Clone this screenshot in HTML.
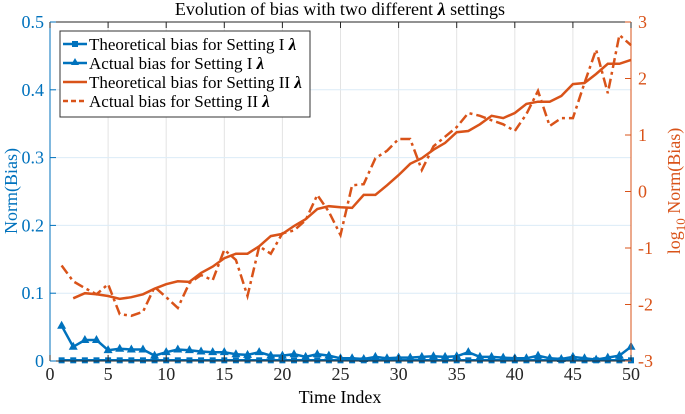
<!DOCTYPE html>
<html><head><meta charset="utf-8"><style>
body{margin:0;background:#fff;}
svg text{font-family:"Liberation Serif",serif;}
</style></head><body>
<svg id="chart" width="685" height="409" xmlns="http://www.w3.org/2000/svg">
<g id="grid"></g>
<g id="marks"></g>
<g id="axes"></g>
<text x="340" y="15" text-anchor="middle" font-size="18">Evolution of bias with two different <tspan font-style="italic" font-weight="bold">λ</tspan> settings</text>
<text x="340" y="403" text-anchor="middle" font-size="18">Time Index</text>
<text transform="translate(17,191) rotate(-90)" text-anchor="middle" font-size="18" fill="#0072BD">Norm(Bias)</text>
<text transform="translate(680,191) rotate(-90)" text-anchor="middle" font-size="18" fill="#D95319">log<tspan font-size="13" dy="5">10</tspan><tspan dy="-5"> Norm(Bias)</tspan></text>
<g>
<rect x="60" y="31" width="250" height="86" fill="#fff" stroke="#333" stroke-width="1"/>
<g><line x1="63" y1="44" x2="87" y2="44" stroke="#0072BD" stroke-width="2.5"/><rect x="72" y="41" width="6" height="6" fill="#0072BD"/><text x="89" y="50" font-size="17">Theoretical bias for Setting I <tspan font-style="italic" font-weight="bold">λ</tspan></text></g>
<g><line x1="63" y1="63" x2="87" y2="63" stroke="#0072BD" stroke-width="2.5"/><path d="M75,58 L79,65 L71,65Z" fill="#0072BD"/><text x="89" y="69" font-size="17">Actual bias for Setting I <tspan font-style="italic" font-weight="bold">λ</tspan></text></g>
<g><line x1="63" y1="82" x2="87" y2="82" stroke="#D95319" stroke-width="2.5"/><text x="89" y="88" font-size="17">Theoretical bias for Setting II <tspan font-style="italic" font-weight="bold">λ</tspan></text></g>
<g><line x1="63" y1="101" x2="87" y2="101" stroke="#D95319" stroke-width="2.5" stroke-dasharray="5,3"/><text x="89" y="107" font-size="17">Actual bias for Setting II <tspan font-style="italic" font-weight="bold">λ</tspan></text></g>
</g>
</svg>
<script>
const xTicks=[0,5,10,15,20,25,30,35,40,45,50];
const yLeftTicks=[0,0.1,0.2,0.3,0.4,0.5];
const yLeftLabels=["0","0.1","0.2","0.3","0.4","0.5"];
const yRightTicks=[-3,-2,-1,0,1,2,3];
const theoII=[null,-1.89,-1.80,-1.82,-1.85,-1.90,-1.87,-1.82,-1.72,-1.64,-1.59,-1.60,-1.44,-1.33,-1.18,-1.10,-1.10,-0.97,-0.79,-0.75,-0.61,-0.49,-0.31,-0.26,-0.28,-0.29,-0.06,-0.06,0.11,0.29,0.49,0.59,0.74,0.86,1.05,1.07,1.19,1.34,1.30,1.39,1.55,1.59,1.59,1.69,1.90,1.92,2.08,2.26,2.26,2.33];
const actII=[-1.31,-1.59,-1.71,-1.82,-1.64,-2.17,-2.20,-2.13,-1.69,-1.87,-2.06,-1.62,-1.48,-1.57,-1.03,-1.21,-1.85,-0.97,-1.10,-0.74,-0.69,-0.51,-0.06,-0.36,-0.77,0.11,0.13,0.59,0.72,0.93,0.93,0.38,0.80,0.97,1.14,1.39,1.34,1.26,1.19,1.07,1.37,1.78,1.16,1.30,1.30,1.92,2.51,1.74,2.77,2.59];
const actI=[0.052,0.021,0.031,0.031,0.016,0.018,0.017,0.017,0.008,0.013,0.017,0.016,0.014,0.013,0.013,0.010,0.009,0.013,0.008,0.008,0.010,0.006,0.010,0.008,0.004,0.004,0.003,0.006,0.004,0.005,0.005,0.006,0.007,0.006,0.007,0.013,0.006,0.006,0.005,0.004,0.004,0.008,0.004,0.003,0.006,0.004,0.002,0.005,0.008,0.021];
const theoI=[0.001,0.001,0.001,0.001,0.001,0.001,0.001,0.001,0.001,0.001,0.001,0.001,0.001,0.001,0.001,0.001,0.001,0.001,0.001,0.001,0.001,0.001,0.001,0.001,0.001,0.001,0.001,0.001,0.001,0.001,0.001,0.001,0.001,0.001,0.001,0.001,0.001,0.001,0.001,0.001,0.001,0.001,0.001,0.001,0.001,0.001,0.001,0.001,0.001,0.001];
const L=50,R=631,T=22,B=361;
const xs=v=>L+(v/50)*(R-L);
const yl=v=>B-(v/0.5)*(B-T);
const yr=v=>B-((v+3)/6)*(B-T);
const NS="http://www.w3.org/2000/svg";
function mk(tag,attrs,parent){const e=document.createElementNS(NS,tag);for(const k in attrs)e.setAttribute(k,attrs[k]);parent.appendChild(e);return e;}
const grid=document.getElementById('grid'),marks=document.getElementById('marks'),axes=document.getElementById('axes');
xTicks.forEach(t=>{const g=mk('line',{x1:xs(t),x2:xs(t),y1:T,y2:B,stroke:'#e3e3e3','stroke-width':1},grid);

});
yLeftTicks.forEach(t=>{const g=mk('line',{x1:L,x2:R,y1:yl(t),y2:yl(t),stroke:'#dcecf7','stroke-width':1},grid);

});
function path(arr,yf,attrs,name){let d='';let pen=false;arr.forEach((v,i)=>{if(v===null){pen=false;return;}d+=(pen?'L':'M')+xs(i+1).toFixed(1)+','+yf(v).toFixed(1);pen=true;});
const p=mk('path',Object.assign({d:d,fill:'none'},attrs),marks);

}
path(theoII,yr,{stroke:'#D95319','stroke-width':2.5},'theoretical-setting-2-line');
path(actII,yr,{stroke:'#D95319','stroke-width':2.5,'stroke-dasharray':'10,4,3,4'},'actual-setting-2-line');
path(theoI,yl,{stroke:'#0072BD','stroke-width':2.5},'theoretical-setting-1-line');
path(actI,yl,{stroke:'#0072BD','stroke-width':2.5},'actual-setting-1-line');
theoI.forEach((v,i)=>{const r=mk('rect',{x:xs(i+1)-3,y:yl(v)-3,width:6,height:6,fill:'#0072BD'},marks);

});
actI.forEach((v,i)=>{const x=xs(i+1),y=yl(v);const p=mk('path',{d:`M${x},${y-5}L${x+4.5},${y+3}L${x-4.5},${y+3}Z`,fill:'#0072BD'},marks);

});
const bx=mk('line',{x1:L,x2:R,y1:B,y2:B,stroke:'#262626'},axes);


const tx=mk('line',{x1:L,x2:R,y1:T,y2:T,stroke:'#262626'},axes);


const ly=mk('line',{x1:L,x2:L,y1:T,y2:B,stroke:'#0072BD'},axes);


const ry=mk('line',{x1:R,x2:R,y1:T,y2:B,stroke:'#D95319'},axes);


xTicks.forEach(t=>{mk('line',{x1:xs(t),x2:xs(t),y1:B,y2:B-6,stroke:'#262626'},axes);mk('line',{x1:xs(t),x2:xs(t),y1:T,y2:T+6,stroke:'#262626'},axes);
const s=mk('text',{x:xs(t),y:B+19,'text-anchor':'middle','font-size':18,fill:'#262626'},axes);s.textContent=t;

});
yLeftTicks.forEach((t,i)=>{mk('line',{x1:L,x2:L+6,y1:yl(t),y2:yl(t),stroke:'#0072BD'},axes);
const s=mk('text',{x:L-6,y:yl(t)+6,'text-anchor':'end','font-size':18,fill:'#0072BD'},axes);s.textContent=yLeftLabels[i];

});
yRightTicks.forEach(t=>{mk('line',{x1:R-6,x2:R,y1:yr(t),y2:yr(t),stroke:'#D95319'},axes);
const s=mk('text',{x:R+7,y:yr(t)+6,'text-anchor':'start','font-size':18,fill:'#D95319'},axes);s.textContent=t<0?'-'+(-t):t;

});
</script>
</body></html>
